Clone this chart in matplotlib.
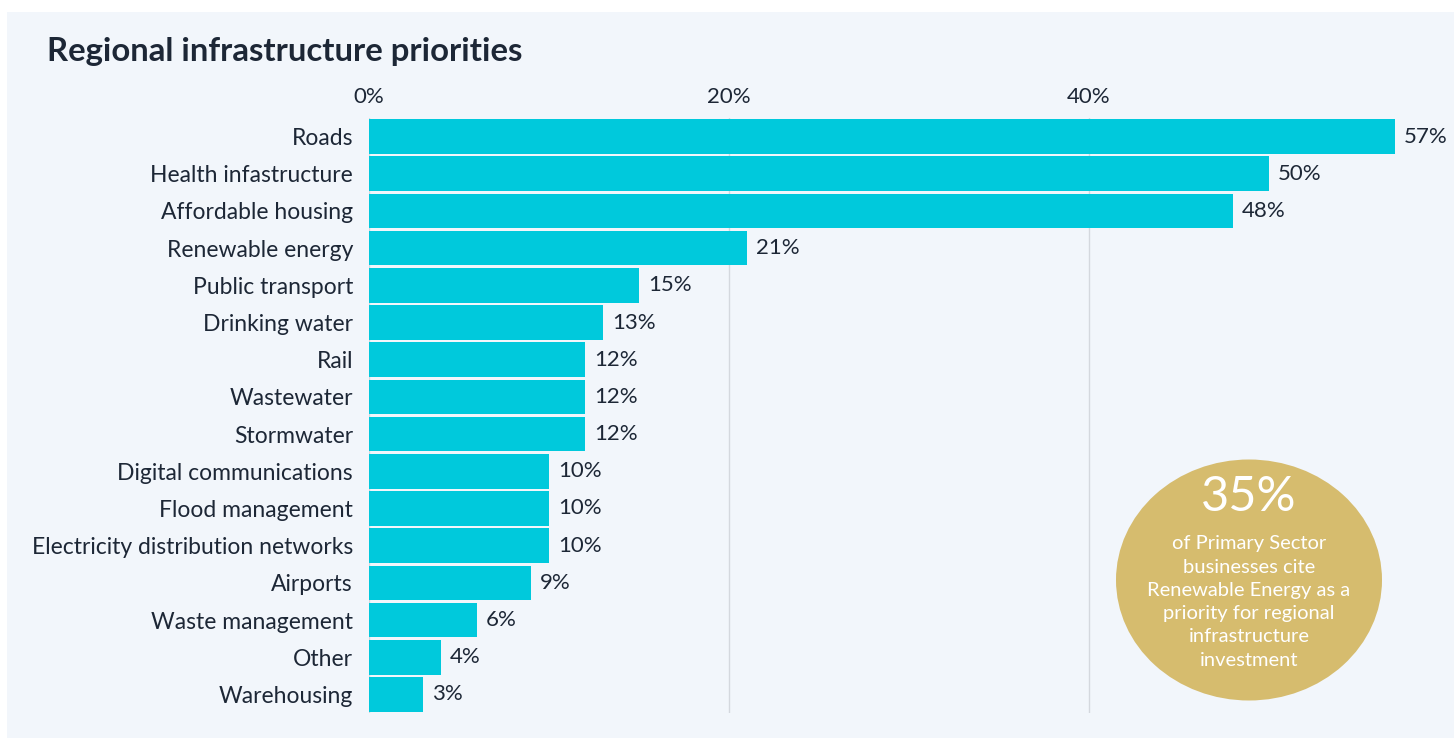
import matplotlib.pyplot as plt
from matplotlib.patches import Rectangle, Ellipse

# data
categories = ["Roads", "Health infastructure", "Affordable housing", "Renewable energy",
              "Public transport", "Drinking water", "Rail", "Wastewater", "Stormwater",
              "Digital communications", "Flood management",
              "Electricity distribution networks", "Airports", "Waste management",
              "Other", "Warehousing"]
values = [57, 50, 48, 21, 15, 13, 12, 12, 12, 10, 10, 10, 9, 6, 4, 3]
ticks = [0, 20, 40]
tick_labels = ["0%", "20%", "40%"]
callout_value = "35%"
callout_text = ("of Primary Sector\nbusinesses cite\nRenewable Energy as a\n"
                "priority for regional\ninfrastructure\ninvestment")

W, H = 1454, 738
dark = "#1d2736"
bar_color = "#00c9dc"
plt.rcParams['font.family'] = ['Lato', 'DejaVu Sans']

fig = plt.figure(figsize=(W / 100, H / 100), dpi=100, facecolor="white")

# light panel behind everything
fig.add_artist(Rectangle((7 / W, 0), 1 - 7 / W, 1 - 12 / H, transform=fig.transFigure,
                         facecolor="#f2f6fb", edgecolor="none", zorder=0))

# axes placed in pixels: 0% at x=369, 18 px per percent, bars from y=118 to 713
left, top, bottom = 369, 118, 713
ax = fig.add_axes([left / W, 1 - bottom / H, (60 * 18) / W, (bottom - top) / H])
ax.set_facecolor("none")

y = list(range(len(categories)))
ax.barh(y, values, height=0.93, color=bar_color, zorder=3)
ax.set_xlim(0, 60)
ax.set_ylim(len(categories) - 0.5, -0.5)

for yi, v in zip(y, values):
    ax.text(v + 0.5, yi, f"{v}%", va="center", ha="left", fontsize=16, color=dark)

ax.set_yticks(y)
ax.set_yticklabels(categories, fontsize=16.5, color=dark)
ax.tick_params(axis="y", length=0, pad=11.5)

ax.xaxis.tick_top()
ax.set_xticks(ticks)
ax.set_xticklabels(tick_labels, fontsize=16, color=dark)
ax.tick_params(axis="x", length=0, pad=8)
ax.grid(axis="x", color="#d4d8de", linewidth=1, zorder=0)
for s in ax.spines.values():
    s.set_visible(False)

fig.text(47 / W, 1 - 52 / H, "Regional infrastructure priorities", fontsize=23.7,
         fontweight="bold", color=dark, va="center", ha="left")

# callout bubble
cx, cy = 1249, 580
fig.add_artist(Ellipse((cx / W, 1 - cy / H), 266 / W, 241 / H, transform=fig.transFigure,
                       facecolor="#d6bc6e", edgecolor="none", zorder=5))
fig.text(cx / W, 1 - 497 / H, callout_value, fontsize=35, color="white",
         ha="center", va="center", zorder=6)
fig.text(cx / W, 1 - 602 / H, callout_text, fontsize=14.5, color="white",
         ha="center", va="center", linespacing=1.45, zorder=6)

fig.savefig("out.png", dpi=100, facecolor="white")
